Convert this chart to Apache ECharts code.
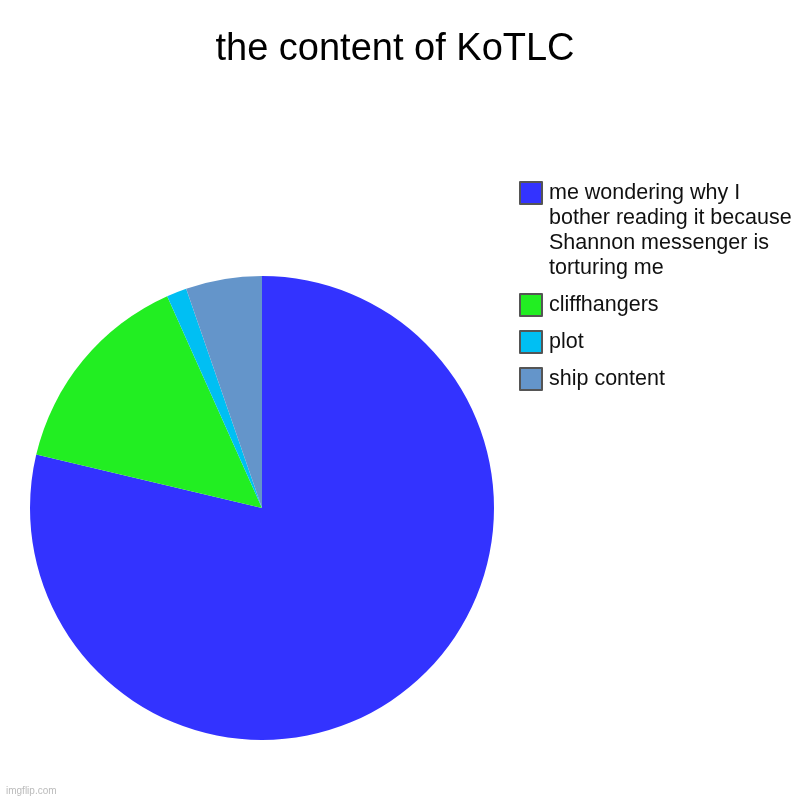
<!DOCTYPE html>
<html>
<head>
<meta charset="utf-8">
<script src="https://cdn.jsdelivr.net/npm/echarts@6/dist/echarts.min.js"></script>
<style>html,body{margin:0;padding:0;background:#fff}#c{width:800px;height:800px}</style>
</head>
<body>
<div id="c"></div>
<script>
const categories = ['me wondering why I bother reading it because Shannon messenger is torturing me', 'cliffhangers', 'plot', 'ship content'];
const legendLabels = ['\n\n\nme wondering why I\nbother reading it because\nShannon messenger is\ntorturing me', 'cliffhangers', 'plot', 'ship content'];
const values = [78.7, 14.6, 1.4, 5.3];
const colors = ['#3333ff', '#22ee22', '#00bff3', '#6495ca'];
const titleText = 'the content of KoTLC';

const chart = echarts.init(document.getElementById('c'), null, {renderer: 'canvas'});
const FONT = 'Liberation Sans, Arial, sans-serif';
chart.setOption({
  animation: false,
  backgroundColor: '#ffffff',
  title: {
    text: titleText, left: 390, top: 26, textAlign: 'center',
    textStyle: {fontFamily: FONT, fontSize: 38, fontWeight: 'normal', color: '#000'}
  },
  legend: {
    orient: 'vertical', left: 519, top: 105.5, padding: 0,
    itemWidth: 22, itemHeight: 22, itemGap: 12,
    icon: 'rect',
    itemStyle: {borderColor: '#555', borderWidth: 2},
    formatter: function (name) { return legendLabels[categories.indexOf(name)]; },
    textStyle: {fontFamily: FONT, fontSize: 21.5, color: '#111', lineHeight: 25, padding: [0, 0, 0, 2]},
    data: categories,
    selectedMode: false
  },
  graphic: [{
    type: 'text', left: 6, top: 786,
    style: {text: 'imgflip.com', fill: '#bbb', font: '10px ' + FONT}
  }],
  series: [{
    type: 'pie', center: [262, 508], radius: 232, startAngle: 90, clockwise: true,
    label: {show: false}, labelLine: {show: false},
    itemStyle: {borderWidth: 0},
    emphasis: {disabled: true},
    data: categories.map((c, i) => ({name: c, value: values[i], itemStyle: {color: colors[i]}}))
  }]
});
</script>
</body>
</html>
